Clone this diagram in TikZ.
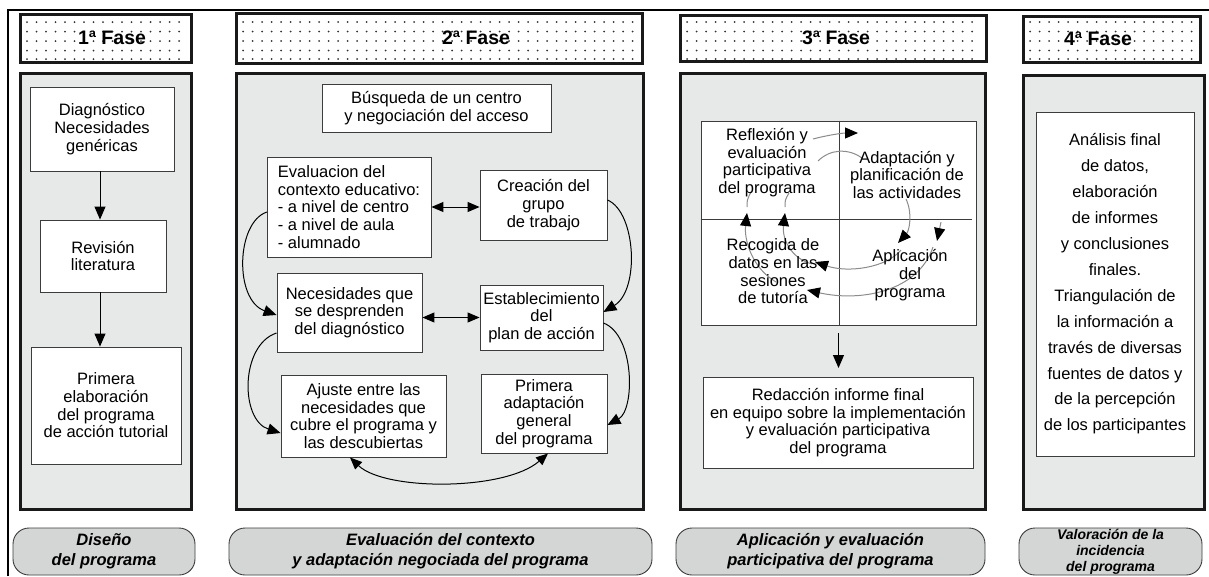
\documentclass[tikz,border=0pt]{standalone}
\usepackage{fontspec}
\setmainfont{Liberation Sans}
\usepackage{xcolor}
\usetikzlibrary{arrows.meta, positioning, calc}
\definecolor{panelgray}{RGB}{231,233,233}
\definecolor{labelgray}{RGB}{212,213,213}
\definecolor{boxline}{RGB}{60,60,60}

\begin{document}
\begin{tikzpicture}[x=1pt, y=-1pt,
    fase/.style={draw=black!90, line width=3pt, inner sep=0pt},
    punto/.style={fill=black!80},
    fasetxt/.style={font=\fontsize{19.5}{22}\selectfont\bfseries, inner sep=0pt},
    panel/.style={draw=black!90, line width=3pt, fill=panelgray, inner sep=0pt},
    caja/.style={draw=boxline, line width=0.9pt, fill=white, align=center, inner sep=0pt,
        font=\fontsize{16.5}{17.7}\selectfont},
    texto/.style={align=center, inner sep=0pt, font=\fontsize{16.5}{17.7}\selectfont},
    etiqueta/.style={draw=boxline, line width=0.9pt, fill=labelgray, rounded corners=16pt,
        align=center, inner sep=0pt, font=\fontsize{16.5}{20}\selectfont\bfseries\itshape},
    flecha/.style={line width=1pt, -{Triangle[length=13pt, width=11pt]}},
    doble/.style={line width=1pt, {Triangle[length=12pt, width=10pt]}-{Triangle[length=12pt, width=10pt]}},
    ciclo/.style={draw=black!45, line width=1pt, -{Triangle[length=13pt, width=11pt, color=black]}}]

    \useasboundingbox (0,0) rectangle (1209,576);
    \draw[line width=2pt] (8,576) -- (8,10) -- (1209,10);

    % fases
    \node[fase, minimum width=171pt, minimum height=48pt] (f1) at (105.5,38) {};
    \node[fase, minimum width=406pt, minimum height=50pt] (f2) at (439,38) {};
    \node[fase, minimum width=306pt, minimum height=46pt] (f3) at (833,38) {};
    \node[fase, minimum width=177pt, minimum height=46pt] (f4) at (1111.5,39) {};
    \foreach \py in {22,31.5,41,50.5,59} {
        \foreach \px in {27,36.5,...,186} \fill[punto] (\px,\py) circle (1pt);
        \foreach \px in {243,252.5,...,637} \fill[punto] (\px,\py) circle (1pt);
        \foreach \px in {687,696.5,...,981} \fill[punto] (\px,\py) circle (1pt);
        \foreach \px in {1030,1039.5,...,1195} \fill[punto] (\px,\py) circle (1pt);
    }
    \node[fasetxt] (t1) at (112,38) {1ª Fase};
    \node[fasetxt] (t2) at (476,38) {2ª Fase};
    \node[fasetxt] (t3) at (836,38) {3ª Fase};
    \node[fasetxt] (t4) at (1098,39) {4ª Fase};

    \node[panel, minimum width=171pt, minimum height=436pt] (p1) at (105.5,291) {};
    \node[panel, minimum width=407pt, minimum height=436pt] (p2) at (439.5,291) {};
    \node[panel, minimum width=305pt, minimum height=436pt] (p3) at (832.5,291) {};
    \node[panel, minimum width=181pt, minimum height=434pt] (p4) at (1113.5,292) {};

    % 1a fase
    \node[caja, minimum width=144pt, minimum height=84pt] (diag) at (102,129)
        {Diagnóstico\\Necesidades\\genéricas};
    \node[caja, minimum width=126pt, minimum height=72pt] (revi) at (103,256)
        {Revisión\\literatura};
    \node[caja, minimum width=150pt, minimum height=117pt] (prim) at (106,405.5)
        {Primera\\elaboración\\del programa\\de acción tutorial};
    \draw[flecha] (diag.south -| 100,0) -- (revi.north -| 100,0);
    \draw[flecha] (revi.south -| 100,0) -- (prim.north -| 100,0);

    % 2a fase
    \node[caja, minimum width=229pt, minimum height=48pt] (busq) at (436.5,108)
        {Búsqueda de un centro\\y negociación del acceso};
    \node[caja, align=left, minimum width=164pt, minimum height=100pt] (eval) at (349,207)
        {Evaluacion del\\contexto educativo:\\- a nivel de centro\\- a nivel de aula\\- alumnado};
    \node[caja, minimum width=127pt, minimum height=70pt] (grupo) at (543.5,205)
        {Creación del\\grupo\\de trabajo};
    \node[caja, minimum width=145pt, minimum height=79pt] (neces) at (349.5,312.5)
        {Necesidades que\\se desprenden\\del diagnóstico};
    \node[caja, minimum width=123pt, minimum height=65pt] (plan) at (541.5,317.5)
        {Establecimiento\\del\\plan de acción};
    \node[caja, minimum width=165pt, minimum height=82pt] (ajuste) at (363.5,416)
        {Ajuste entre las\\necesidades que\\cubre el programa y\\las descubiertas};
    \node[caja, minimum width=126pt, minimum height=79pt] (adapt) at (544,413.5)
        {Primera\\adaptación\\general\\del programa};
    \draw[doble] (eval.east) -- (eval.east -| grupo.west);
    \draw[doble] (plan.west -| neces.east) -- (plan.west);
    \draw[flecha] (267,212) .. controls (236,222) and (234,300) .. (neces.west |- 0,315);
    \draw[flecha] (grupo.east |- 0,200) .. controls (636,212) and (640,290) .. (plan.east |- 0,312);
    \draw[flecha] (neces.west |- 0,333) .. controls (240,345) and (240,420) .. (ajuste.west |- 0,433);
    \draw[flecha] (plan.east |- 0,323) .. controls (635,335) and (635,410) .. (adapt.east |- 0,425);
    \draw[doble] (ajuste.south -| 350,0) .. controls (385,491) and (505,491) .. (adapt.south -| 548,0);

    % 3a fase
    \node[draw=boxline, line width=0.9pt, fill=white, minimum width=275pt, minimum height=204pt,
        inner sep=0pt] (cuad) at (838.5,223) {};
    \draw[boxline, line width=0.9pt] (cuad.north -| 839,0) -- (cuad.south -| 839,0);
    \draw[boxline, line width=0.9pt] (cuad.west |- 0,219) -- (972,219);
    \draw[ciclo] (813,139) .. controls (828,135) and (843,133) .. (858,133);
    \draw[ciclo, -] (818,161) .. controls (830,149) and (848,148) .. (862,158);
    \draw[ciclo] (906,199) .. controls (913,214) and (909,231) .. (898,243);
    \draw[ciclo] (941,222) -- (937,241);
    \draw[ciclo] (901,250) .. controls (886,268) and (848,273) .. (815,262);
    \draw[ciclo] (933,247) .. controls (918,292) and (860,302) .. (807,290);
    \draw[ciclo] (776,282) .. controls (752,268) and (744,240) .. (747,213);
    \draw[ciclo] (812,264) .. controls (790,258) and (782,238) .. (785,213);
    \draw[ciclo, -] (747,207) .. controls (747,200) .. (751,192);
    \draw[ciclo, -] (785,207) .. controls (785,200) .. (789,193);
    \node[texto] (refl) at (767,162.5) {Reflexión y\\evaluación\\participativa\\del programa};
    \node[texto] (plani) at (907,175) {Adaptación y\\planificación de\\las actividades};
    \node[texto] (recog) at (773,271.5) {Recogida de\\datos en las\\sesiones\\de tutoría};
    \node[texto] (aplic) at (910,275) {Aplicación\\del\\programa};
    \node[caja, minimum width=270pt, minimum height=91pt] (redac) at (838,422.5)
        {Redacción informe final\\en equipo sobre la implementación\\y evaluación participativa\\del programa};
    \draw[flecha, shorten <=8pt] (cuad.south) -- (cuad.south |- 0,368);

    % 4a fase
    \node[caja, font=\fontsize{16.5}{25.9}\selectfont, minimum width=158pt, minimum height=344pt]
        (anal) at (1115,284) {Análisis final\\de datos,\\elaboración\\de informes\\y conclusiones\\finales.\\
        Triangulación de\\la información a\\través de diversas\\fuentes de datos y\\de la percepción\\de los participantes};

    % etiquetas
    \node[etiqueta, minimum width=182pt, minimum height=47pt] (e1) at (104,551.5)
        {Diseño\\del programa};
    \node[etiqueta, minimum width=423pt, minimum height=47pt] (e2) at (440.5,551.5)
        {Evaluación del contexto\\y adaptación negociada del programa};
    \node[etiqueta, minimum width=309pt, minimum height=47pt] (e3) at (830.5,551.5)
        {Aplicación y evaluación\\participativa del programa};
    \node[etiqueta, font=\fontsize{14}{16}\selectfont\bfseries\itshape, minimum width=183pt,
        minimum height=47pt] (e4) at (1110.5,551.5) {Valoración de la\\incidencia\\del programa};
\end{tikzpicture}
\end{document}
